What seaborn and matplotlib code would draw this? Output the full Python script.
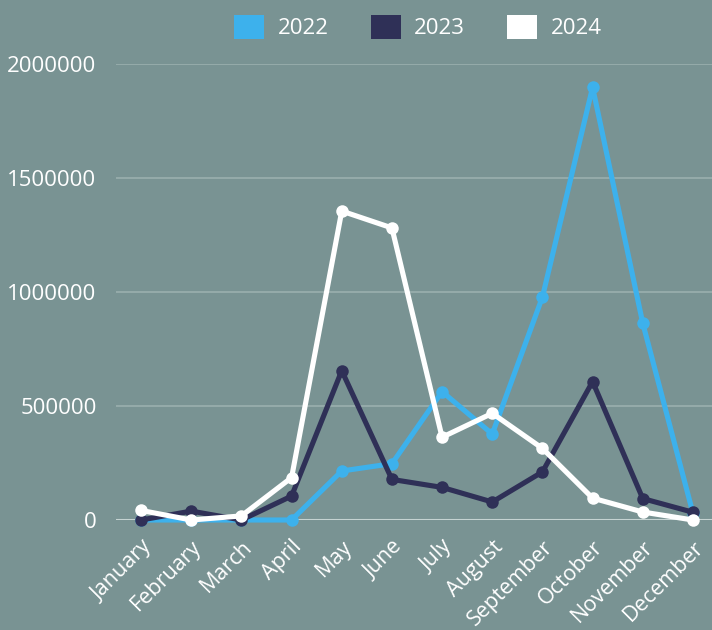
import matplotlib
matplotlib.use("Agg")
import matplotlib.pyplot as plt
from matplotlib.patches import Patch
import seaborn as sns
import pandas as pd

months = ["January", "February", "March", "April", "May", "June", "July",
          "August", "September", "October", "November", "December"]
years = ["2022", "2023", "2024"]
v2022 = [0, 0, 0, 0, 215000, 247000, 563000, 377000, 978000, 1898000, 863000, 30000]
v2023 = [0, 39000, 0, 105000, 655000, 178000, 143000, 79000, 211000, 607000, 94000, 34000]
v2024 = [42000, 0, 18000, 186000, 1355000, 1281000, 363000, 468000, 314000, 96000, 35000, 0]
yticks = [0, 500000, 1000000, 1500000, 2000000]
colors = ["#3DB1EC", "#2F3057", "#FFFFFF"]

bg = "#799393"
sns.set_theme(style="white")
plt.rcParams["font.family"] = ["Open Sans", "DejaVu Sans"]

df = pd.DataFrame({
    "month": months * 3,
    "x": list(range(12)) * 3,
    "value": v2022 + v2023 + v2024,
    "year": [years[0]] * 12 + [years[1]] * 12 + [years[2]] * 12,
})

fig = plt.figure(figsize=(7.12, 6.3), dpi=100, facecolor=bg)
ax = fig.add_axes([116 / 712, 1 - 520 / 630, 1 - 116 / 712, (520 - 64) / 630])
ax.set_facecolor(bg)

sns.lineplot(data=df, x="x", y="value", hue="year", palette=colors,
             marker="o", markersize=9, markeredgewidth=0, linewidth=3.7,
             ax=ax, legend=False, clip_on=False, zorder=3)

ax.set_xlim(-0.5, 11.38)
ax.set_ylim(0, 2000000)
ax.set_yticks(yticks)
ax.set_yticklabels([str(t) for t in yticks], color="white", fontsize=16)
ax.set_xticks(range(12))
ax.set_xticklabels(months, rotation=45, ha="right", rotation_mode="anchor",
                   color="white", fontsize=15.5)
ax.tick_params(axis="both", length=0)
ax.tick_params(axis="y", pad=14)
ax.tick_params(axis="x", pad=12)
ax.set_xlabel("")
ax.set_ylabel("")
for s in ax.spines.values():
    s.set_visible(False)
for t in yticks[1:]:
    ax.axhline(t, color="#97ADAC", linewidth=1.3, zorder=1)
ax.axhline(0, color="#C5D3D2", linewidth=1.5, zorder=1)

handles = [Patch(facecolor=c, edgecolor="none") for c in colors]
fig.legend(handles, years, loc="center", bbox_to_anchor=(418 / 712, 1 - 27 / 630),
           ncol=3, frameon=False, fontsize=16, labelcolor="white",
           handlelength=1.35, handleheight=1.35, handletextpad=0.6, columnspacing=1.9)

fig.savefig("out.png", dpi=100, facecolor=bg)
